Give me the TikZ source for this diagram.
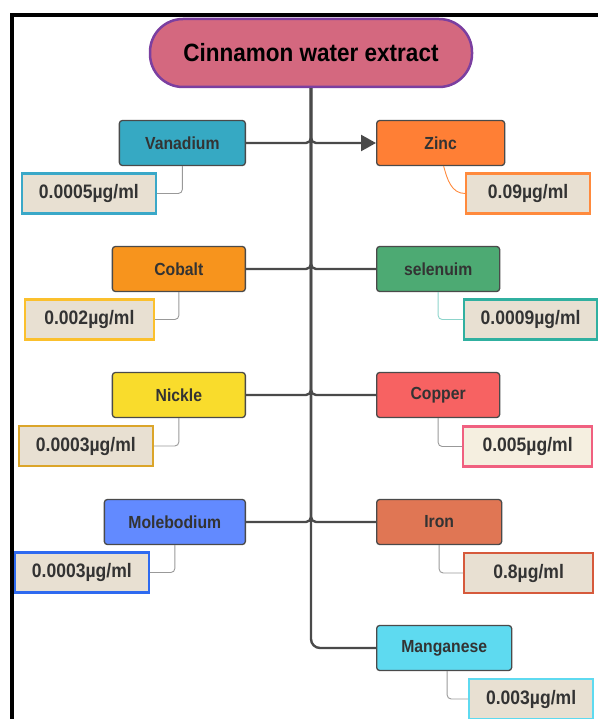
\documentclass[tikz,border=0pt]{standalone}
\usepackage{fontspec}
\setmainfont{Liberation Sans}
\newfontfamily\tallfont{Liberation Sans}[FakeStretch=0.9]
\usetikzlibrary{arrows.meta}
\definecolor{Rose}{RGB}{212,104,127}
\definecolor{Plum}{RGB}{123,63,160}
\definecolor{Edge}{RGB}{74,74,74}
\definecolor{Ink}{RGB}{51,51,51}
\definecolor{Beige}{RGB}{232,224,210}
\definecolor{Cream}{RGB}{245,239,224}
\definecolor{Teal}{RGB}{54,169,195}
\definecolor{TealB}{RGB}{58,168,200}
\definecolor{Tangerine}{RGB}{255,127,53}
\definecolor{TangerineB}{RGB}{255,138,61}
\definecolor{Amber}{RGB}{247,148,29}
\definecolor{AmberB}{RGB}{251,192,45}
\definecolor{Jade}{RGB}{77,170,115}
\definecolor{JadeB}{RGB}{48,176,160}
\definecolor{Lemon}{RGB}{249,220,44}
\definecolor{LemonB}{RGB}{219,165,42}
\definecolor{Coral}{RGB}{247,98,98}
\definecolor{CoralB}{RGB}{240,96,128}
\definecolor{Cornflower}{RGB}{98,138,255}
\definecolor{CornflowerB}{RGB}{46,106,240}
\definecolor{Rust}{RGB}{224,118,84}
\definecolor{RustB}{RGB}{214,90,60}
\definecolor{Sky}{RGB}{94,218,240}

\begin{document}
\begin{tikzpicture}[x=1pt,y=-1pt,
 top/.style={rounded corners=33pt,draw=Plum,fill=Rose,line width=2.5pt,minimum width=322pt,minimum height=68pt,font=\tallfont\fontsize{25}{28}\selectfont\bfseries},
 elem/.style={draw=Edge,line width=1.3pt,rounded corners=3pt,minimum height=45pt,font=\tallfont\fontsize{17.5}{19}\selectfont\bfseries,text=Ink},
 val/.style={line width=2.2pt,fill=Beige,minimum height=40pt,font=\tallfont\fontsize{19.5}{22}\selectfont\bfseries,text=Ink},
 trunk/.style={draw=Edge,line width=2.4pt,rounded corners=5pt},
 lnk/.style={draw=gray!80,line width=.9pt,rounded corners=4pt}]
\useasboundingbox (0,0) rectangle (597,719);
% frame
\draw[line width=4.5pt] (12,740) |- (620,15);

\node[top] (extract) at (311,53) {Cinnamon water extract};

% left column
\node[elem,fill=Teal,minimum width=126pt,anchor=east] (vanadium) at (246,143) {Vanadium};
\node[elem,fill=Amber,minimum width=133pt,anchor=east] (cobalt) at (246,269) {Cobalt};
\node[elem,fill=Lemon,minimum width=133pt,anchor=east] (nickle) at (246,395) {Nickle};
\node[elem,fill=Cornflower,minimum width=141pt,anchor=east] (molebodium) at (246,522) {Molebodium};

% right column
\node[elem,fill=Tangerine,minimum width=128pt,anchor=west] (zinc) at (376,143) {Zinc\hspace{24pt}};
\node[elem,fill=Jade,minimum width=123pt,anchor=west] (selenuim) at (376,269) {selenuim\hspace{8pt}};
\node[elem,fill=Coral,minimum width=123pt,anchor=west] (copper) at (376,395) {Copper};
\node[elem,fill=Rust,minimum width=125pt,anchor=west] (iron) at (376,522) {Iron\hspace{30pt}};
\node[elem,fill=Sky,minimum width=135pt,anchor=west] (manganese) at (376,648) {Manganese};

% values
\node[val,draw=TealB,minimum width=134pt,anchor=east] (vanadiumv) at (157,193.5) {0.0005µg/ml};
\node[val,draw=AmberB,minimum width=129pt,anchor=east] (cobaltv) at (155,319.5) {0.002µg/ml};
\node[val,draw=LemonB,minimum width=134pt,anchor=east] (nicklev) at (154,446) {0.0003µg/ml};
\node[val,draw=CornflowerB,minimum width=134pt,anchor=east] (molebodiumv) at (150,572.5) {0.0003µg/ml};
\node[val,draw=TangerineB,minimum width=124pt,anchor=west] (zincv) at (465,193.5) {0.09µg/ml};
\node[val,draw=JadeB,minimum width=133pt,anchor=west] (selenuimv) at (463,319.5) {0.0009µg/ml};
\node[val,draw=CoralB,fill=Cream,minimum width=129pt,anchor=west] (copperv) at (462,446.5) {0.005µg/ml};
\node[val,draw=RustB,minimum width=129pt,anchor=west] (ironv) at (463,573) {0.8µg/ml};
\node[val,draw=Sky,minimum width=124pt,anchor=west] (manganesev) at (468,699) {0.003µg/ml};

% branches
\draw[trunk,rounded corners=9pt] (extract.south) |- (manganese.west);
\draw[trunk] (extract.south) |- (vanadium.east);
\draw[trunk,-{Triangle[length=15pt,width=16pt]}] (extract.south) |- (zinc.west);
\draw[trunk] (extract.south) |- (cobalt.east);
\draw[trunk] (extract.south) |- (selenuim.west);
\draw[trunk] (extract.south) |- (nickle.east);
\draw[trunk] (extract.south) |- (copper.west);
\draw[trunk] (extract.south) |- (molebodium.east);
\draw[trunk] (extract.south) |- (iron.west);

% value links
\draw[lnk] (vanadium.south) |- (vanadiumv.east);
\draw[lnk] (cobalt.south) |- (cobaltv.east);
\draw[lnk] (nickle.south) |- (nicklev.east);
\draw[lnk] (molebodium.south) |- (molebodiumv.east);
\draw[lnk,draw=TangerineB] ([xshift=3pt]zinc.south) to[out=-75,in=180] (zincv.west);
\draw[lnk,draw=JadeB!55] (selenuim.south) |- (selenuimv.west);
\draw[lnk] (copper.south) |- (copperv.west);
\draw[lnk] (iron.south) |- (ironv.west);
\draw[lnk] ([xshift=3pt]manganese.south) |- (manganesev.west);
\end{tikzpicture}
\end{document}
